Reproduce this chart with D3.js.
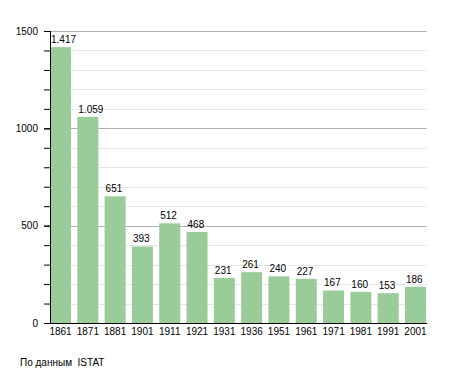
<!DOCTYPE html>
<html>
<head>
<meta charset="utf-8">
<style>
body { margin: 0; background: #fff; }
text { font-family: "Liberation Sans", Arial, sans-serif; font-size: 10px; fill: #000; }
</style>
</head>
<body>
<script src="https://d3js.org/d3.v7.min.js"></script>
<script>
var years = ["1861","1871","1881","1901","1911","1921","1931","1936","1951","1961","1971","1981","1991","2001"];
var population = [1417, 1059, 651, 393, 512, 468, 231, 261, 240, 227, 167, 160, 153, 186];
var yTicks = [0, 500, 1000, 1500];
var sourceText = "По данным  ISTAT";

var width = 455, height = 373;
var plotLeft = 50, plotRight = 427, plotTop = 31, plotBottom = 323;

var svg = d3.select("body").append("svg")
    .attr("width", width)
    .attr("height", height);

var x = d3.scaleBand()
    .domain(years)
    .range([plotLeft, plotRight - 1])
    .paddingInner(0.23)
    .paddingOuter(0);

var y = d3.scaleLinear()
    .domain([0, 1500])
    .range([plotBottom, plotTop]);

// minor grid lines every 100
svg.append("g")
  .selectAll("line")
  .data(d3.range(100, 1501, 100).filter(function(d){ return d % 500 != 0; }))
  .enter().append("line")
    .attr("x1", plotLeft).attr("x2", plotRight)
    .attr("y1", function(d){ return Math.round(y(d)) + 0.5; })
    .attr("y2", function(d){ return Math.round(y(d)) + 0.5; })
    .style("stroke", "#e6e6e6");

// major grid lines
svg.append("g")
  .selectAll("line")
  .data(yTicks.slice(1))
  .enter().append("line")
    .attr("x1", plotLeft).attr("x2", plotRight)
    .attr("y1", function(d){ return Math.round(y(d)) + 0.5; })
    .attr("y2", function(d){ return Math.round(y(d)) + 0.5; })
    .style("stroke", "#b3b3b3");

// bars
svg.append("g")
  .selectAll("rect")
  .data(population)
  .enter().append("rect")
    .attr("x", function(d, i){ return x(years[i]); })
    .attr("width", x.bandwidth())
    .attr("y", function(d){ return y(d); })
    .attr("height", function(d){ return y(0) - y(d); })
    .style("fill", "#99cc99");

// value labels, left aligned with the bar
svg.append("g")
  .selectAll("text")
  .data(population)
  .enter().append("text")
    .attr("x", function(d, i){ return x(years[i]) + 1; })
    .attr("y", function(d){ return y(d) - 4; })
    .text(function(d){ return d3.format(",")(d).replace(",", "."); });

// y axis with minor ticks
svg.append("g")
    .attr("transform", "translate(" + plotLeft + ",0)")
    .call(d3.axisLeft(y).tickValues(d3.range(0, 1501, 100)).tickSize(6).tickFormat(""))
    .call(function(g){ g.select(".domain").remove(); });

svg.append("g")
    .attr("transform", "translate(" + plotLeft + ",0)")
    .call(d3.axisLeft(y).tickValues(yTicks).tickSize(6).tickPadding(6).tickFormat(d3.format("d")))
    .call(function(g){
      g.select(".domain").attr("d", "M0.5," + plotTop + "V" + (plotBottom + 0.5));
      g.selectAll("text").style("font-size", "10px").style("font-family", "Liberation Sans, Arial, sans-serif");
    });

// x axis
svg.append("g")
    .attr("transform", "translate(0," + plotBottom + ")")
    .call(d3.axisBottom(x).tickSize(0).tickPadding(5))
    .call(function(g){
      g.select(".domain").attr("d", "M" + plotLeft + ",0.5H" + plotRight);
      g.selectAll("text").style("font-size", "10px").style("font-family", "Liberation Sans, Arial, sans-serif");
    });

svg.append("text")
    .attr("x", 20)
    .attr("y", 366)
    .style("white-space", "pre")
    .text(sourceText);
</script>
</body>
</html>
